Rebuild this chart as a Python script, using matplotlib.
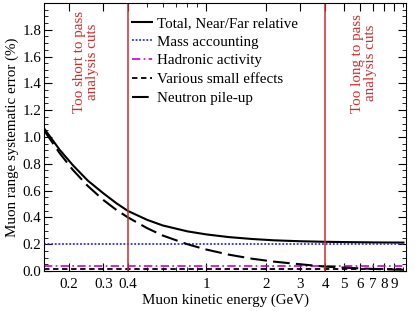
import numpy as np
import matplotlib.pyplot as plt
from matplotlib.ticker import FixedLocator, NullFormatter, MultipleLocator

plt.rcParams['font.family'] = ['Liberation Serif', 'DejaVu Serif']
plt.rcParams['mathtext.fontset'] = 'stix'

energy = [0.15, 0.18, 0.21, 0.25, 0.3, 0.35, 0.4, 0.5, 0.6, 0.8, 1.0, 1.3,
          1.7, 2.2, 3.0, 4.0, 5.5, 7.5, 10.0]
total = [1.065, 0.905, 0.79, 0.675, 0.58, 0.505, 0.448, 0.382, 0.34, 0.296,
         0.273, 0.253, 0.239, 0.229, 0.222, 0.218, 0.215, 0.213, 0.212]
pileup = [1.05, 0.88, 0.755, 0.635, 0.53, 0.455, 0.40, 0.32, 0.265, 0.20,
          0.16, 0.122, 0.092, 0.07, 0.05, 0.033, 0.022, 0.014, 0.009]
mass_acc = 0.205
hadronic = 0.04
small_eff = 0.017

cut_low, cut_high = 0.4, 4.0

xtick_major = [0.2, 0.3, 0.4, 1, 2, 3, 4, 5, 6, 7, 8, 9]
xtick_labels = ["0.2", "0.3", "0.4", "1", "2", "3", "4", "5", "6", "7", "8", "9"]
xtick_minor = [0.5, 0.6, 0.7, 0.8, 0.9, 10]

FS = 10.8

fig = plt.figure(figsize=(4.15, 3.11), dpi=100)
ax = fig.add_axes([44 / 415, 1 - 271 / 311, 362 / 415, 268 / 311])

e = np.array(energy)
ax.plot(e, total, color="black", lw=1.5, label="Total, Near/Far relative")
ax.plot(e, np.full_like(e, mass_acc), color="#2a2aff", lw=1.3, ls=(0, (1, 1)),
        label="Mass accounting")
ax.plot(e, np.full_like(e, hadronic), color="#cc00cc", lw=1.2, ls=(0, (5, 2, 1, 2)),
        label="Hadronic activity")
ax.plot(e, np.full_like(e, small_eff), color="black", lw=1.3, ls=(0, (3, 2)),
        label="Various small effects")
ax.plot(e, pileup, color="black", lw=1.5, ls=(0, (8, 3)), label="Neutron pile-up")

for xc in (cut_low, cut_high):
    ax.axvline(xc, color="#d42a2a", lw=1.1)

ax.text(0.245, 1.94, "Too short to pass\nanalysis cuts", color="#d42a2a",
        rotation=90, ha="center", va="top", fontsize=FS, linespacing=1.0)
ax.text(6.3, 1.92, "Too long to pass\nanalysis cuts", color="#d42a2a",
        rotation=90, ha="center", va="top", fontsize=FS, linespacing=1.0)

ax.set_xscale("log")
ax.set_xlim(0.15, 10.3)
ax.set_ylim(0, 2.0)
ax.xaxis.set_major_locator(FixedLocator(xtick_major))
ax.set_xticklabels(xtick_labels)
ax.xaxis.set_minor_locator(FixedLocator(xtick_minor))
ax.xaxis.set_minor_formatter(NullFormatter())
ax.set_yticks(np.arange(0, 1.81, 0.2))
ax.set_yticklabels([f"{v:.1f}" for v in np.arange(0, 1.81, 0.2)])
ax.yaxis.set_minor_locator(MultipleLocator(0.05))
ax.tick_params(which="both", direction="in", top=True, right=True, labelsize=FS)
ax.tick_params(which="major", length=6, width=0.8)
ax.tick_params(which="minor", length=3, width=0.6)
ax.tick_params(axis="x", pad=5)
ax.tick_params(axis="y", pad=2)

ax.set_xlabel("Muon kinetic energy (GeV)", fontsize=FS, labelpad=2)
ax.set_ylabel("Muon range systematic error (%)", fontsize=FS, labelpad=2)

ax.legend(loc="upper left", bbox_to_anchor=(0.243, 0.95), frameon=False,
          fontsize=FS, handlelength=1.35, handletextpad=0.3, labelspacing=0.35,
          borderaxespad=0, borderpad=0)

fig.savefig("out.png", dpi=100)
